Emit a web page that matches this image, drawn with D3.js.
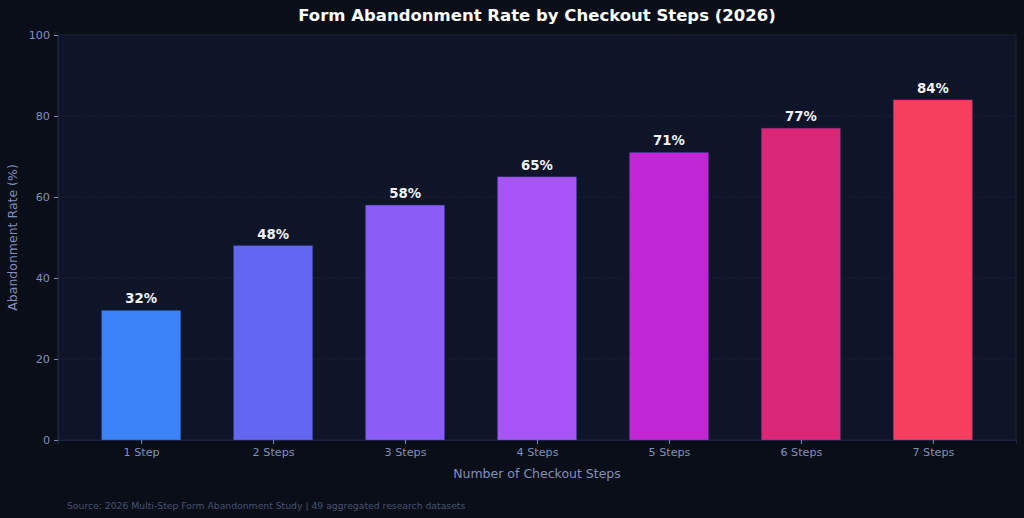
<!DOCTYPE html>
<html>
<head>
<meta charset="utf-8">
<script src="https://cdn.jsdelivr.net/npm/d3@7"></script>
<style>
  html, body { margin: 0; padding: 0; background: #0a0e19; }
  svg { display: block; font-family: "DejaVu Sans", sans-serif; }
</style>
</head>
<body>
<div id="chart"></div>
<script>
const categories = ["1 Step", "2 Steps", "3 Steps", "4 Steps", "5 Steps", "6 Steps", "7 Steps"];
const rates = [32, 48, 58, 65, 71, 77, 84];
const barColors = ["#3b82f6", "#6366f1", "#8b5cf6", "#a855f7", "#c026d3", "#db2777", "#f43f5e"];
const yTicks = [0, 20, 40, 60, 80, 100];

const width = 1024, height = 518;
const margin = { top: 35, right: 8, bottom: 78, left: 58 };

const svg = d3.select("#chart")
  .append("svg")
  .attr("width", width)
  .attr("height", height);

svg.append("rect")
  .attr("width", width)
  .attr("height", height)
  .attr("fill", "#0a0e19");

// matplotlib-like x limits: bars of width 0.6 plus 5% margins
const x = d3.scaleLinear()
  .domain([-0.63, categories.length - 1 + 0.63])
  .range([margin.left, width - margin.right]);
const y = d3.scaleLinear()
  .domain([0, 100])
  .range([height - margin.bottom, margin.top]);

const plotMid = (margin.left + width - margin.right) / 2;

// plot area
svg.append("rect")
  .attr("x", margin.left)
  .attr("y", margin.top)
  .attr("width", width - margin.right - margin.left)
  .attr("height", height - margin.bottom - margin.top)
  .attr("fill", "#0f1528")
  .attr("stroke", "#1a2238")
  .attr("stroke-width", 1);

// grid
svg.append("g")
  .selectAll("line")
  .data(yTicks.slice(1, -1))
  .enter().append("line")
  .attr("x1", margin.left)
  .attr("x2", width - margin.right)
  .attr("y1", d => y(d))
  .attr("y2", d => y(d))
  .attr("stroke", "#19213a")
  .attr("stroke-width", 0.8)
  .attr("stroke-dasharray", "3,2");

// bars
const barW = x(0.6) - x(0);
svg.selectAll(".bar")
  .data(rates)
  .enter().append("rect")
  .attr("class", "bar")
  .attr("x", (d, i) => x(i) - barW / 2)
  .attr("y", d => y(d))
  .attr("width", barW)
  .attr("height", d => y(0) - y(d))
  .attr("fill", (d, i) => barColors[i])
  .attr("stroke", "#1e3a8a")
  .attr("stroke-opacity", 0.35)
  .attr("stroke-width", 1);

// value labels
svg.selectAll(".val")
  .data(rates)
  .enter().append("text")
  .attr("x", (d, i) => x(i))
  .attr("y", d => y(d) - 7)
  .attr("text-anchor", "middle")
  .attr("fill", "#f1f3f8")
  .attr("font-size", "13.3px")
  .attr("font-weight", "bold")
  .text(d => d + "%");

// axes
const xAxis = svg.append("g")
  .attr("transform", `translate(0,${y(0)})`)
  .call(d3.axisBottom(x)
    .tickValues(d3.range(categories.length))
    .tickFormat(i => categories[i])
    .tickSize(4)
    .tickPadding(4));
const yAxis = svg.append("g")
  .attr("transform", `translate(${margin.left},0)`)
  .call(d3.axisLeft(y)
    .tickValues(yTicks)
    .tickSize(4)
    .tickPadding(4));

[xAxis, yAxis].forEach(g => {
  g.select(".domain").attr("stroke", "#1e2742");
  g.selectAll(".tick line").attr("stroke", "#7d8bb5");
  g.selectAll(".tick text")
    .attr("fill", "#8190bb")
    .attr("font-size", "11.2px")
    .attr("font-family", "DejaVu Sans, sans-serif");
});

// axis titles
svg.append("text")
  .attr("x", plotMid)
  .attr("y", 478)
  .attr("text-anchor", "middle")
  .attr("fill", "#8190bb")
  .attr("font-size", "12.5px")
  .text("Number of Checkout Steps");

svg.append("text")
  .attr("transform", `translate(17,${(margin.top + y(0)) / 2}) rotate(-90)`)
  .attr("text-anchor", "middle")
  .attr("fill", "#8190bb")
  .attr("font-size", "12.5px")
  .text("Abandonment Rate (%)");

// title
svg.append("text")
  .attr("x", plotMid)
  .attr("y", 21)
  .attr("text-anchor", "middle")
  .attr("fill", "#ffffff")
  .attr("font-size", "16.5px")
  .attr("font-weight", "bold")
  .text("Form Abandonment Rate by Checkout Steps (2026)");

// source note
svg.append("text")
  .attr("x", 67)
  .attr("y", 509)
  .attr("fill", "#47536f")
  .attr("font-size", "9.25px")
  .text("Source: 2026 Multi-Step Form Abandonment Study | 49 aggregated research datasets");
</script>
</body>
</html>
